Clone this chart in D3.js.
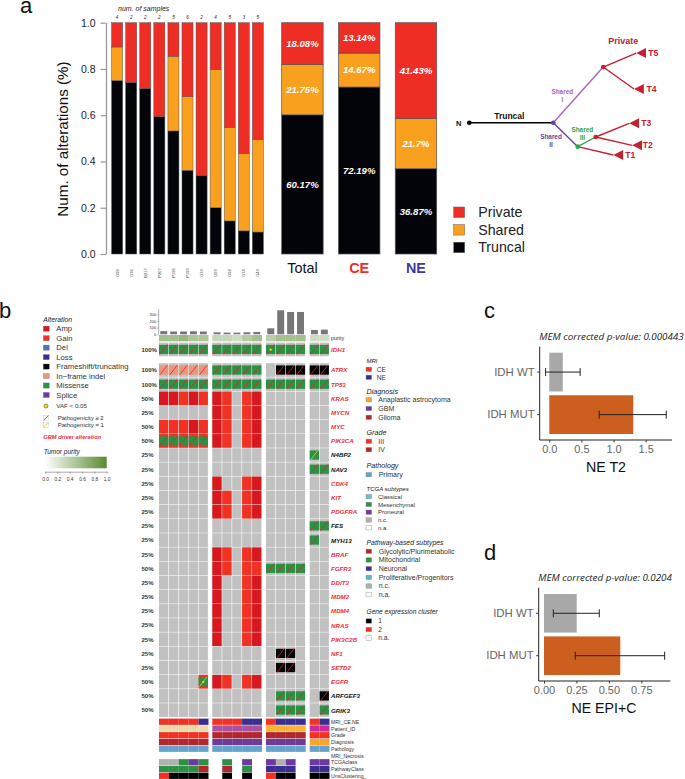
<!DOCTYPE html>
<html>
<head>
<meta charset="utf-8">
<script src="https://cdn.jsdelivr.net/npm/d3@7"></script>
<style>
  body { margin: 0; background: #fff; }
  text { font-family: "Liberation Sans", Arial, sans-serif; }
</style>
</head>
<body>
<script>
/* panel a: per tumour stacks */
const samples = ['G99', 'G36', 'B217', 'P207', 'P196', 'P193', 'G33', 'G93', 'G92', 'G74', 'G43'];
const numSamples = [4, 2, 2, 2, 5, 6, 2, 4, 5, 3, 5];
const truncal = [0.75, 0.742, 0.716, 0.594, 0.532, 0.362, 0.34, 0.2, 0.143, 0.1, 0.095];
const shared = [0.145, 0, 0, 0, 0.323, 0.318, 0, 0.597, 0.404, 0.334, 0.4];
const privateAlt = [0.105, 0.258, 0.284, 0.406, 0.145, 0.32, 0.66, 0.203, 0.453, 0.566, 0.505];

const summaryNames = ['Total', 'CE', 'NE'];
const summaryTruncal = [60.17, 72.19, 36.87];
const summaryShared = [21.75, 14.67, 21.7];
const summaryPrivate = [18.08, 13.14, 41.43];
const yTicksA = [0, 0.2, 0.4, 0.6, 0.8, 1];
const stackKeys = ['Truncal', 'Shared', 'Private'];

/* panel a: schematic tree, branch length and angle */
const treeBranches = [
  ['N', 'A', 84, 0, 'Truncal'],
  ['A', 'B', 74.8, -48.1, 'SharedI'],
  ['B', 'T5', 35.8, -23, 'Private'],
  ['B', 'T4', 37.8, 35.6, 'Private'],
  ['A', 'C', 34.2, 44.5, 'SharedII'],
  ['C', 'D', 20.4, -28.3, 'SharedIII'],
  ['D', 'T3', 36.3, -22.2, 'Private'],
  ['D', 'T2', 37.5, 12.8, 'Private'],
  ['C', 'T1', 36.6, 13.1, 'Private']
];

/* panel b: oncoprint */
const genes = ['IDH1', 'ATRX', 'TP53', 'KRAS', 'MYCN', 'MYC', 'PIK3CA', 'N4BP2', 'NAV3', 'CDK4', 'KIT', 'PDGFRA',
  'FES', 'MYH13', 'BRAF', 'FGFR3', 'DDIT3', 'MDM2', 'MDM4', 'NRAS', 'PIK3C2B', 'NF1', 'SETD2', 'EGFR', 'ARFGEF3', 'GRIK3'];
const genePct = ['100%', '100%', '100%', '50%', '25%', '50%', '50%', '25%', '25%', '25%', '25%', '25%',
  '25%', '25%', '25%', '50%', '25%', '25%', '25%', '25%', '25%', '25%', '25%', '50%', '50%', '50%'];
const nonDriver = ['N4BP2', 'NAV3', 'FES', 'MYH13', 'ARFGEF3', 'GRIK3'];
// A amp, G gain, M missense, I indel, F frameshift, P gain + missense,
// y missense with pathogenicity 1, V missense + VAF dot, W gain + missense + dot
const oncoMatrix = [
  'MMMMM MMMMM VMMM MM',
  'IIIII MMMMM .FFF FF',
  'MMMMM MMMMM MMMM MM',
  'AAGAG AG.GA .... ..',
  '..... AG.GA .... ..',
  'GGGAG AG.GA .... ..',
  'PPPPP AG.GA .... ..',
  '..... ..... .... y.',
  '..... ..... .... MM',
  '..... A..GA .... ..',
  '..... AG.GA .... ..',
  '..... AG.GA .... ..',
  '..... ..... .... MM',
  '..... ..... .... M.',
  '..... AG.GA .... ..',
  '..... AG.GG MMMM ..',
  '..... A..GA .... ..',
  '..... A..GA .... ..',
  '..... A..GA .... ..',
  '..... A..GA .... ..',
  '..... A..GA .... ..',
  '..... ..... .FF. ..',
  '..... ..... .FF. ..',
  '....W AG.GA .... ..',
  '..... ..... .MMM .F',
  '..... ..... .MMM .M'
];
const groupSizes = [5, 5, 4, 2];
const mutLoad = [[48, 42, 42, 45, 42], [30, 25, 25, 30, 35], [90, 360, 335, 335], [65, 70]];
const purity = [[0.55, 0.55, 0.62, 0.5, 0.5], [0.35, 0.35, 0.3, 0.45, 0.55], [0.42, 0.55, 0.55, 0.55], [0.3, 0.3]];
const loadTicks = [0, 100, 200, 300];

const annotNames = ['MRI_CE.NE', 'Patient_ID', 'Grade', 'Diagnosis', 'Pathology', 'MRI_Necrosis', 'TCGAclass', 'PathwayClass', 'UnsClustering_'];
const annotMatrix = [
  ['CE', 'CE', 'CE', 'CE', 'NE', 'CE', 'CE', 'CE', 'NE', 'NE', 'CE', 'NE', 'NE', 'NE', 'CE', 'NE'],
  ['p1', 'p1', 'p1', 'p1', 'p1', 'p2', 'p2', 'p2', 'p2', 'p2', 'p3', 'p3', 'p3', 'p3', 'p4', 'p4'],
  ['III', 'III', 'III', 'III', 'III', 'IV', 'IV', 'IV', 'IV', 'IV', 'IV', 'IV', 'IV', 'IV', 'III', 'III'],
  ['Glioma', 'Glioma', 'Glioma', 'Glioma', 'Glioma', 'GBM', 'GBM', 'GBM', 'GBM', 'GBM', 'GBM', 'GBM', 'GBM', 'GBM', 'Ana', 'Ana'],
  ['Primary', 'Primary', 'Primary', 'Primary', 'Primary', 'Primary', 'Primary', 'Primary', 'Primary', 'Primary', 'Primary', 'Primary', 'Primary', 'Primary', 'Primary', 'Primary'],
  ['na', 'na', 'na', 'na', 'na', 'na', 'na', 'na', 'na', 'na', 'na', 'na', 'na', 'na', 'na', 'na'],
  ['nc', 'nc', 'Mes', 'Pro', 'Mes', 'na', 'Mes', 'na', 'Pro', 'na', 'Pro', 'nc', 'Pro', 'na', 'Pro', 'Pro'],
  ['Mito', 'Mito', 'Mito', 'Mito', 'Gly', 'na', 'Gly', 'na', 'Mito', 'na', 'Neu', 'Neu', 'Neu', 'na', 'Neu', 'Neu'],
  ['c2', 'c1', 'c1', 'c1', 'c1', 'na', 'c1', 'na', 'c1', 'na', 'c2', 'c1', 'c1', 'na', 'c1', 'c1']
];

const altLabels = ['Amp', 'Gain', 'Del', 'Loss', 'Frameshift/truncating', 'In\u2212frame indel', 'Missense', 'Splice'];
const purityTicks = [0, 0.2, 0.4, 0.6, 0.8, 1];
const legendBlocks = [
  { title: 'MRI', labels: ['CE', 'NE'], keys: ['CE', 'NE'] },
  { title: 'Diagnosis', labels: ['Anaplastic astrocytoma', 'GBM', 'Glioma'], keys: ['Ana', 'GBM', 'Glioma'] },
  { title: 'Grade', labels: ['III', 'IV'], keys: ['III', 'IV'] },
  { title: 'Pathology', labels: ['Primary'], keys: ['Primary'] },
  { title: 'TCGA subtypes', labels: ['Classical', 'Mesenchymal', 'Proneural', 'n.c.', 'n.a.'], keys: ['Cla', 'Mes', 'Pro', 'nc', 'na'] },
  { title: 'Pathway-based subtypes', labels: ['Glycolytic/Plurimetabolic', 'Mitochondrial', 'Neuronal', 'Proliferative/Progenitors', 'n.c.', 'n.a.'], keys: ['Gly', 'Mito', 'Neu', 'Prol', 'nc', 'na'] },
  { title: 'Gene expression cluster', labels: ['1', '2', 'n.a.'], keys: ['c1', 'c2', 'na'] }
];

/* panels c and d */
const idhGroups = ['IDH WT', 'IDH MUT'];
const t2Means = [0.21, 1.306];
const t2Low = [-0.057, 0.777];
const t2High = [0.48, 1.82];
const t2Ticks = [0, 0.5, 1, 1.5];
const epiMeans = [0.252, 0.588];
const epiLow = [0.072, 0.241];
const epiHigh = [0.426, 0.93];
const epiTicks = [0, 0.25, 0.5, 0.75];

/* colours */
const stackColor = { Truncal: '#02040a', Shared: '#f9a11f', Private: '#ee2d24' };
const treeColor = { Truncal: '#000', SharedI: '#a868bb', SharedII: '#64409f', SharedIII: '#2ea548', Private: '#c4202f' };
const altColor = ['#d7191f', '#f23023', '#4f74b5', '#3b2e91', '#000', '#e8967c', '#2b9145', '#6f3aa0'];
const annotColor = {
  CE: '#f23023', NE: '#3b2e91', p1: '#ecd9a8', p2: '#a8529e', p3: '#f9b233', p4: '#c82b96',
  III: '#f23023', IV: '#b2272d', Ana: '#f9a52c', GBM: '#6b3a9b', Glioma: '#b2272d', Primary: '#65a2cc',
  Cla: '#6fc0c4', Mes: '#2b9145', Pro: '#6f3aa0', Gly: '#b2272d', Mito: '#2b9145', Neu: '#3b2e91', Prol: '#55b9bd',
  nc: '#b0b0b0', na: '#fff', c1: '#000', c2: '#f23023'
};

const svg = d3.select('body').append('svg')
  .attr('width', 685)
  .attr('height', 779);

function panelLetter(t, x, y) {
  svg.append('text').attr('x', x).attr('y', y).attr('font-size', 22).attr('fill', '#111').text(t);
}
panelLetter('a', 20, 12.7);
panelLetter('b', -1, 318);
panelLetter('c', 484, 318);
panelLetter('d', 484, 560);

/* ---- panel a ---- */
const yA = d3.scaleLinear().domain([0, 1]).range([254, 22.7]);
const xA = d3.scaleBand().domain(samples).range([110.2, 264.8]).paddingInner(0.215).paddingOuter(0.1);

const axisA = svg.append('g')
  .attr('transform', 'translate(106,0)')
  .call(d3.axisLeft(yA).tickValues(yTicksA).tickSize(5.5).tickSizeOuter(0).tickPadding(5).tickFormat(d3.format('.1f')));
axisA.select('.domain').attr('stroke', '#9a9a9a').attr('stroke-width', 1.3);
axisA.selectAll('.tick line').attr('stroke', '#9a9a9a').attr('stroke-width', 1.2);
axisA.selectAll('.tick text').attr('font-size', 10.5).attr('fill', '#222').style('font-family', '"Liberation Sans"');

svg.append('text')
  .attr('transform', 'translate(68,139) rotate(-90)')
  .attr('text-anchor', 'middle')
  .attr('font-size', 15.2)
  .attr('fill', '#111')
  .text('Num. of alterations (%)');

const sampleRows = samples.map((s, i) => ({ name: s, Truncal: truncal[i], Shared: shared[i], Private: privateAlt[i] }));
const stack = d3.stack().keys(stackKeys);

svg.append('g')
  .selectAll('g')
  .data(stack(sampleRows))
  .enter().append('g')
  .attr('fill', d => stackColor[d.key])
  .selectAll('rect')
  .data(d => d.filter(s => s[1] > s[0]))
  .enter().append('rect')
  .attr('x', d => xA(d.data.name))
  .attr('y', d => yA(d[1]))
  .attr('width', xA.bandwidth())
  .attr('height', d => yA(d[0]) - yA(d[1]))
  .attr('stroke', '#555')
  .attr('stroke-width', 0.5);

svg.append('text')
  .attr('x', 118).attr('y', 10.5)
  .attr('font-size', 7).attr('font-style', 'italic').attr('fill', '#222')
  .text('num. of samples');

svg.append('g').selectAll('text')
  .data(numSamples)
  .enter().append('text')
  .attr('x', (d, i) => xA(samples[i]) + xA.bandwidth() / 2)
  .attr('y', 19)
  .attr('text-anchor', 'middle')
  .attr('font-size', 4.6).attr('font-style', 'italic').attr('fill', '#222')
  .text(d => d);

svg.append('g').selectAll('text')
  .data(samples)
  .enter().append('text')
  .attr('transform', d => `translate(${xA(d) + xA.bandwidth() / 2 + 1.4},273) rotate(-90)`)
  .attr('text-anchor', 'middle')
  .attr('font-size', 4).attr('fill', '#333')
  .text(d => d);

// summary bars
const xSum = d3.scaleBand().domain(summaryNames).range([281.7, 436.7]).paddingInner(0.27);
const summaryRows = summaryNames.map((s, i) => ({
  name: s,
  Truncal: summaryTruncal[i] / 100,
  Shared: summaryShared[i] / 100,
  Private: summaryPrivate[i] / 100
}));
const sumLayers = svg.append('g')
  .selectAll('g')
  .data(stack(summaryRows))
  .enter().append('g');

sumLayers.selectAll('rect')
  .data(d => d.map(s => Object.assign(s, { key: d.key })))
  .enter().append('rect')
  .attr('x', d => xSum(d.data.name))
  .attr('y', d => yA(d[1]))
  .attr('width', xSum.bandwidth())
  .attr('height', d => yA(d[0]) - yA(d[1]))
  .attr('fill', d => stackColor[d.key])
  .attr('stroke', '#555')
  .attr('stroke-width', 0.7);

sumLayers.selectAll('text')
  .data(d => d)
  .enter().append('text')
  .attr('x', d => xSum(d.data.name) + xSum.bandwidth() / 2)
  .attr('y', d => yA((d[0] + d[1]) / 2) + 3.3)
  .attr('text-anchor', 'middle')
  .attr('font-size', 9.6).attr('font-style', 'italic').attr('font-weight', 'bold').attr('fill', '#fff')
  .text(d => `${d3.format('.4~r')((d[1] - d[0]) * 100)}%`);

svg.append('g').selectAll('text')
  .data(summaryNames)
  .enter().append('text')
  .attr('x', d => xSum(d) + xSum.bandwidth() / 2)
  .attr('y', 273)
  .attr('text-anchor', 'middle')
  .attr('font-size', 14.4)
  .attr('font-weight', d => d === 'Total' ? 'normal' : 'bold')
  .attr('fill', d => d === 'Total' ? '#111' : d === 'CE' ? '#ee2d24' : '#3f3a9b')
  .text(d => d);

// private / shared / truncal legend
const legA = svg.append('g').selectAll('g')
  .data(stackKeys.slice().reverse())
  .enter().append('g')
  .attr('transform', (d, i) => `translate(453.7,${207 + i * 17.6})`);
legA.append('rect')
  .attr('width', 11).attr('height', 10.5)
  .attr('fill', d => stackColor[d]).attr('stroke', '#666').attr('stroke-width', 0.5);
legA.append('text')
  .attr('x', 24.5).attr('y', 10)
  .attr('font-size', 14.2).attr('fill', '#222')
  .text(d => d);

// tree, walked from the root through branch length and angle
const treeScale = d3.scaleLinear().domain([0, 1]).range([0, 1]);
const treePos = { N: [469.3, 122.7] };
treeBranches.forEach(b => {
  const p = treePos[b[0]], a = b[3] * Math.PI / 180;
  treePos[b[1]] = [p[0] + treeScale(b[2]) * Math.cos(a), p[1] + treeScale(b[2]) * Math.sin(a)];
});
const tree = svg.append('g');
tree.selectAll('line')
  .data(treeBranches)
  .enter().append('line')
  .attr('x1', d => treePos[d[0]][0]).attr('y1', d => treePos[d[0]][1])
  .attr('x2', d => treePos[d[1]][0]).attr('y2', d => treePos[d[1]][1])
  .attr('stroke', d => treeColor[d[4]])
  .attr('stroke-width', d => d[4] === 'Truncal' ? 1.6 : 1.4);
// tumour triangles
tree.selectAll('path')
  .data(treeBranches.filter(b => b[1][0] === 'T'))
  .enter().append('path')
  .attr('d', d => {
    const p = treePos[d[1]];
    return d3.line()([p, [p[0] + 9.8, p[1] - 5], [p[0] + 9.8, p[1] + 5]]) + 'Z';
  })
  .attr('fill', treeColor.Private);
// inner nodes
const nodeColors = { N: '#000', A: treeColor.SharedII, B: treeColor.Private, C: treeColor.SharedIII, D: treeColor.Private };
tree.selectAll('circle')
  .data(Object.keys(nodeColors))
  .enter().append('circle')
  .attr('cx', d => treePos[d][0]).attr('cy', d => treePos[d][1])
  .attr('r', 2.3)
  .attr('fill', d => nodeColors[d]);

function treeText(t, x, y, size, color, anchor) {
  tree.append('text')
    .attr('x', x).attr('y', y)
    .attr('font-size', size).attr('font-weight', 'bold')
    .attr('text-anchor', anchor || 'middle')
    .attr('fill', color)
    .text(t);
}
treeText('N', 458.7, 126, 7.5, '#111');
treeText('Truncal', 509.3, 118.7, 8.5, '#111');
treeText('Private', 623.3, 44, 9, treeColor.Private);
treeText('T5', 648.3, 55.6, 8.6, treeColor.Private, 'start');
treeText('T4', 646.5, 91.8, 8.6, treeColor.Private, 'start');
treeText('T3', 641.2, 126.3, 8.6, treeColor.Private, 'start');
treeText('T2', 642.7, 148.4, 8.6, treeColor.Private, 'start');
treeText('T1', 625.3, 158, 8.6, treeColor.Private, 'start');
treeText('Shared', 562.3, 94, 6.4, treeColor.SharedI);
treeText('I', 562.3, 101.5, 6.4, treeColor.SharedI);
treeText('Shared', 551, 139, 6.4, treeColor.SharedII);
treeText('II', 551, 147.2, 6.4, treeColor.SharedII);
treeText('Shared', 582.3, 131.5, 6.4, treeColor.SharedIII);
treeText('III', 582.3, 139.8, 6.4, treeColor.SharedIII);

/* ---- panel b ---- */
const groupRanges = [[159, 208.5], [212.3, 262], [266, 305.7], [309.7, 329.5]];
const colScales = groupSizes.map((n, g) => d3.scaleBand().domain(d3.range(n)).range(groupRanges[g]));
const columns = [];
groupSizes.forEach((n, g) => d3.range(n).forEach(c => columns.push({ g: g, c: c, idx: columns.length })));
const colX = d => colScales[d.g](d.c);
const colW = d => colScales[d.g].bandwidth();

const yRows = d3.scaleBand().domain(genes.slice(1)).range([363.2, 717.4]);
const rowY = g => g === 'IDH1' ? 342.6 : yRows(g);
const rowH = yRows.bandwidth();

const onco = svg.append('g');
const cells = [];
genes.forEach((gene, r) => {
  const codes = oncoMatrix[r].replace(/ /g, '');
  columns.forEach((col, i) => cells.push({ gene: gene, col: col, code: codes[i] }));
});

// background
onco.selectAll('rect.bg')
  .data(cells)
  .enter().append('rect')
  .attr('class', 'bg')
  .attr('x', d => colX(d.col))
  .attr('y', d => rowY(d.gene))
  .attr('width', d => colW(d.col) - 0.6)
  .attr('height', rowH - 0.5)
  .attr('fill', '#c1c1c1');

// copy number, full cell
const cnvOf = { A: altColor[0], G: altColor[1], P: altColor[1], W: altColor[1] };
onco.selectAll('rect.cnv')
  .data(cells.filter(d => cnvOf[d.code]))
  .enter().append('rect')
  .attr('class', 'cnv')
  .attr('x', d => colX(d.col))
  .attr('y', d => rowY(d.gene))
  .attr('width', d => colW(d.col) - 0.6)
  .attr('height', rowH - 0.5)
  .attr('fill', d => cnvOf[d.code]);

// mutations, inner box with a slash
const mutOf = { M: altColor[6], P: altColor[6], V: altColor[6], y: altColor[6], W: altColor[6], I: altColor[5], F: altColor[4] };
const mutH = 9.2;
const mutCells = cells.filter(d => mutOf[d.code]);
onco.selectAll('rect.mut')
  .data(mutCells)
  .enter().append('rect')
  .attr('class', 'mut')
  .attr('x', d => colX(d.col))
  .attr('y', d => rowY(d.gene) + (rowH - 0.5 - mutH) / 2)
  .attr('width', d => colW(d.col) - 0.6)
  .attr('height', mutH)
  .attr('fill', d => mutOf[d.code]);
onco.selectAll('line.slash')
  .data(mutCells)
  .enter().append('line')
  .attr('class', 'slash')
  .attr('x1', d => colX(d.col) + 0.8)
  .attr('x2', d => colX(d.col) + colW(d.col) - 1.4)
  .attr('y1', d => rowY(d.gene) + (rowH - 0.5 + mutH) / 2 + 0.3)
  .attr('y2', d => rowY(d.gene) + (rowH - 0.5 - mutH) / 2 - 0.3)
  .attr('stroke', d => 'yW'.includes(d.code) ? '#e6d21e' : '#e0242b')
  .attr('stroke-width', 0.8);
onco.selectAll('circle.vaf')
  .data(mutCells.filter(d => 'VW'.includes(d.code)))
  .enter().append('circle')
  .attr('class', 'vaf')
  .attr('cx', d => colX(d.col) + colW(d.col) / 2 - 0.3)
  .attr('cy', d => rowY(d.gene) + rowH / 2)
  .attr('r', 1.1)
  .attr('fill', '#f4e300');

// gene labels and percentages
svg.append('g').selectAll('text')
  .data(genes)
  .enter().append('text')
  .attr('x', 331)
  .attr('y', d => rowY(d) + rowH / 2 + 2.2)
  .attr('font-size', 6.2).attr('font-weight', 'bold').attr('font-style', 'italic')
  .attr('fill', d => nonDriver.includes(d) ? '#111' : '#ee2d3a')
  .text(d => d);
svg.append('g').selectAll('text')
  .data(genes)
  .enter().append('text')
  .attr('x', 141.5)
  .attr('y', d => rowY(d) + rowH / 2 + 2.1)
  .attr('font-size', 6).attr('font-weight', 'bold').attr('fill', '#333')
  .text((d, i) => genePct[i]);

// mutational load bars on top
const yLoad = d3.scaleLinear().domain([0, 300]).range([334.3, 314.3]);
const flatLoad = mutLoad.flat();
const flatPurity = purity.flat();
svg.append('g').selectAll('rect')
  .data(columns)
  .enter().append('rect')
  .attr('x', d => colX(d) + 1.3)
  .attr('y', d => yLoad(flatLoad[d.idx]))
  .attr('width', d => colW(d) - 3)
  .attr('height', d => yLoad(0) - yLoad(flatLoad[d.idx]))
  .attr('fill', '#767676');
const axisLoad = svg.append('g')
  .attr('transform', 'translate(158.7,0)')
  .call(d3.axisLeft(yLoad).tickValues(loadTicks).tickSize(1.5).tickSizeOuter(0).tickPadding(1));
axisLoad.select('.domain').attr('d', `M0,${yLoad(0)}V309.3`).attr('stroke', '#777').attr('stroke-width', 0.6);
axisLoad.selectAll('.tick line').attr('stroke', '#777').attr('stroke-width', 0.5);
axisLoad.selectAll('.tick text').attr('font-size', 4).attr('fill', '#333').style('font-family', '"Liberation Sans"');

// purity strip
const purityColor = d3.scaleLinear().domain([0, 1]).range(['#ffffff', '#5c8a33']);
svg.append('g').selectAll('rect')
  .data(columns)
  .enter().append('rect')
  .attr('x', d => colX(d))
  .attr('y', 335)
  .attr('width', d => colW(d))
  .attr('height', 6.3)
  .attr('fill', d => purityColor(flatPurity[d.idx]));
svg.append('text')
  .attr('x', 331).attr('y', 340.2)
  .attr('font-size', 5.4).attr('fill', '#333')
  .text('purity');

// bottom annotation strips
const yAnnot = d3.scaleBand().domain(annotNames).range([718.6, 779.4]);
annotNames.forEach((name, r) => {
  svg.append('g').selectAll('rect')
    .data(columns)
    .enter().append('rect')
    .attr('x', d => colX(d))
    .attr('y', yAnnot(name))
    .attr('width', d => colW(d))
    .attr('height', yAnnot.bandwidth() - 0.5)
    .attr('fill', d => annotColor[annotMatrix[r][d.idx]]);
});
svg.append('g').selectAll('text')
  .data(annotNames)
  .enter().append('text')
  .attr('x', 331)
  .attr('y', d => yAnnot(d) + yAnnot.bandwidth() / 2 + 1.8)
  .attr('font-size', 5.2).attr('fill', '#333')
  .text(d => d);

// alteration legend
svg.append('text')
  .attr('x', 43.3).attr('y', 321.7)
  .attr('font-size', 6.8).attr('font-style', 'italic').attr('fill', '#222')
  .text('Alteration');
const altLeg = svg.append('g').selectAll('g')
  .data(altLabels)
  .enter().append('g')
  .attr('transform', (d, i) => `translate(43.3,${328.7 + i * 9.47})`);
altLeg.append('rect')
  .attr('y', -2.6).attr('width', 6).attr('height', 5.2)
  .attr('fill', (d, i) => altColor[i]).attr('stroke', '#777').attr('stroke-width', 0.3);
altLeg.append('text')
  .attr('x', 13).attr('y', 2.6)
  .attr('font-size', 7.7).attr('fill', '#333')
  .text(d => d);

svg.append('circle')
  .attr('cx', 46).attr('cy', 406).attr('r', 2)
  .attr('fill', '#f4e300').attr('stroke', '#333').attr('stroke-width', 0.5);
svg.append('text').attr('x', 56.3).attr('y', 408.2)
  .attr('font-size', 6.2).attr('fill', '#333').text('VAF < 0.05');

['Pathogenicity \u2265 2', 'Pathogenicity = 1'].forEach((t, i) => {
  const cy = 418 + i * 7;
  svg.append('rect').attr('x', 43.3).attr('y', cy - 2.6).attr('width', 5.4).attr('height', 5.2)
    .attr('fill', '#fff').attr('stroke', '#bbb').attr('stroke-width', 0.4);
  svg.append('line').attr('x1', 43.6).attr('x2', 48.4).attr('y1', cy + 2.4).attr('y2', cy - 2.4)
    .attr('stroke', i === 0 ? '#e0242b' : '#e8c84a').attr('stroke-width', 0.8);
  svg.append('text').attr('x', 57.7).attr('y', cy + 2)
    .attr('font-size', 6).attr('fill', '#333').text(t);
});

svg.append('text')
  .attr('x', 43.3).attr('y', 438.7)
  .attr('font-size', 5.7).attr('font-weight', 'bold').attr('font-style', 'italic').attr('fill', '#ee2d3a')
  .text('GBM driver alteration');

svg.append('text')
  .attr('x', 43.7).attr('y', 454)
  .attr('font-size', 6.5).attr('font-style', 'italic').attr('fill', '#222')
  .text('Tumor purity');

const defs = svg.append('defs');
const grad = defs.append('linearGradient').attr('id', 'purityGrad');
grad.append('stop').attr('offset', '0%').attr('stop-color', '#ffffff');
grad.append('stop').attr('offset', '100%').attr('stop-color', '#5c8a33');
svg.append('rect')
  .attr('x', 45).attr('y', 456.7).attr('width', 61.7).attr('height', 11.6)
  .attr('fill', 'url(#purityGrad)');
const xPurity = d3.scaleLinear().domain([0, 1]).range([45, 106.7]);
const axisPurity = svg.append('g')
  .attr('transform', 'translate(0,471.7)')
  .call(d3.axisBottom(xPurity).tickValues(purityTicks).tickSize(2).tickSizeOuter(0).tickPadding(4).tickFormat(d3.format('.1f')));
axisPurity.select('.domain').attr('stroke', '#555').attr('stroke-width', 0.5);
axisPurity.selectAll('.tick line').attr('stroke', '#555').attr('stroke-width', 0.5);
axisPurity.selectAll('.tick text').attr('font-size', 4.8).attr('fill', '#333').style('font-family', '"Liberation Sans"');

// clinical legends on the right of the oncoprint
const blockLayout = [
  { titleY: 363.3, titleSize: 6, y0: 369.3, step: 8, textX: 376.7, size: 6.6 },
  { titleY: 394.3, titleSize: 7.2, y0: 399.7, step: 8.8, textX: 378.3, size: 7 },
  { titleY: 435.3, titleSize: 7.2, y0: 441.3, step: 8.4, textX: 378.3, size: 7 },
  { titleY: 468.3, titleSize: 7.2, y0: 474.7, step: 8.4, textX: 378.7, size: 7 },
  { titleY: 490.7, titleSize: 6, y0: 496.7, step: 7.75, textX: 378, size: 6 },
  { titleY: 545.3, titleSize: 6.9, y0: 551.3, step: 8.68, textX: 378.7, size: 7 },
  { titleY: 614.3, titleSize: 6.6, y0: 621, step: 8.5, textX: 378.3, size: 6.6 }
];
legendBlocks.forEach((b, i) => {
  const l = blockLayout[i];
  svg.append('text')
    .attr('x', 366.5).attr('y', l.titleY)
    .attr('font-size', l.titleSize).attr('font-style', 'italic').attr('fill', '#222')
    .text(b.title);
  const items = svg.append('g').selectAll('g')
    .data(b.labels)
    .enter().append('g')
    .attr('transform', (d, j) => `translate(366,${l.y0 + j * l.step})`);
  items.append('rect')
    .attr('y', -2.2).attr('width', 5.6).attr('height', 4.4)
    .attr('fill', (d, j) => annotColor[b.keys[j]])
    .attr('stroke', '#888').attr('stroke-width', 0.4);
  items.append('text')
    .attr('x', l.textX - 366).attr('y', l.size * 0.35)
    .attr('font-size', l.size).attr('fill', '#333')
    .text(d => d);
});

/* ---- panels c, d ---- */
function drawIdhPanel(opt) {
  const x = d3.scaleLinear().domain(opt.domain).range(opt.range);
  const y = d3.scaleBand().domain(idhGroups).range(opt.bandRange).paddingInner(0.09);
  const g = svg.append('g');

  g.selectAll('rect')
    .data(idhGroups)
    .enter().append('rect')
    .attr('x', x(0))
    .attr('y', d => y(d))
    .attr('width', (d, i) => x(opt.means[i]) - x(0))
    .attr('height', y.bandwidth())
    .attr('fill', (d, i) => i === 0 ? '#a8a8a8' : '#cc5e20');

  const err = g.selectAll('g.err')
    .data(idhGroups)
    .enter().append('g')
    .attr('class', 'err')
    .attr('stroke', '#222')
    .attr('stroke-width', 1);
  err.append('line')
    .attr('x1', (d, i) => x(opt.low[i])).attr('x2', (d, i) => x(opt.high[i]))
    .attr('y1', d => y(d) + y.bandwidth() / 2).attr('y2', d => y(d) + y.bandwidth() / 2);
  err.append('line')
    .attr('x1', (d, i) => x(opt.low[i])).attr('x2', (d, i) => x(opt.low[i]))
    .attr('y1', d => y(d) + y.bandwidth() / 2 - 4).attr('y2', d => y(d) + y.bandwidth() / 2 + 4);
  err.append('line')
    .attr('x1', (d, i) => x(opt.high[i])).attr('x2', (d, i) => x(opt.high[i]))
    .attr('y1', d => y(d) + y.bandwidth() / 2 - 4).attr('y2', d => y(d) + y.bandwidth() / 2 + 4);

  const axX = g.append('g')
    .attr('transform', `translate(0,${opt.axisY})`)
    .call(d3.axisBottom(x).tickValues(opt.ticks).tickSize(2.5).tickSizeOuter(0).tickPadding(3).tickFormat(d3.format(opt.fmt)));
  axX.select('.domain').attr('d', `M${opt.axisX},0H${opt.axisEnd}`).attr('stroke', '#222').attr('stroke-width', 1);
  axX.selectAll('.tick line').attr('stroke', '#333');
  axX.selectAll('.tick text').attr('font-size', 11).attr('fill', '#666').style('font-family', '"Liberation Sans"');

  const axY = g.append('g')
    .attr('transform', `translate(${opt.axisX},0)`)
    .call(d3.axisLeft(y).tickSize(2.5).tickSizeOuter(0).tickPadding(2.5));
  axY.select('.domain').attr('d', `M0,${opt.axisTop}V${opt.axisY}`).attr('stroke', '#222').attr('stroke-width', 1);
  axY.selectAll('.tick line').attr('stroke', '#333');
  axY.selectAll('.tick text').attr('font-size', 11.4).attr('fill', '#666').style('font-family', '"Liberation Sans"');

  g.append('text')
    .attr('x', opt.axisX - 0.4).attr('y', opt.axisTop - 6.4)
    .attr('font-size', 9.8).attr('font-style', 'italic').attr('fill', '#222')
    .style('font-family', '"Open Sans"')
    .text(opt.title);
  g.append('text')
    .attr('x', opt.labelX).attr('y', opt.axisY + 32)
    .attr('text-anchor', 'middle')
    .attr('font-size', 14.2).attr('fill', '#111')
    .text(opt.label);
}

drawIdhPanel({
  domain: [0, 1.5], range: [549.3, 645.7], bandRange: [352.7, 434],
  means: t2Means, low: t2Low, high: t2High, ticks: t2Ticks, fmt: '.1f',
  axisX: 539.7, axisEnd: 672, axisTop: 346.7, axisY: 440,
  title: 'MEM corrected p-value: 0.000443', label: 'NE T2', labelX: 606
});
drawIdhPanel({
  domain: [0, 0.75], range: [544, 641.3], bandRange: [594, 675],
  means: epiMeans, low: epiLow, high: epiHigh, ticks: epiTicks, fmt: '.2f',
  axisX: 538.7, axisEnd: 670.3, axisTop: 587.7, axisY: 681,
  title: 'MEM corrected p-value: 0.0204', label: 'NE EPI+C', labelX: 604
});
</script>
</body>
</html>
